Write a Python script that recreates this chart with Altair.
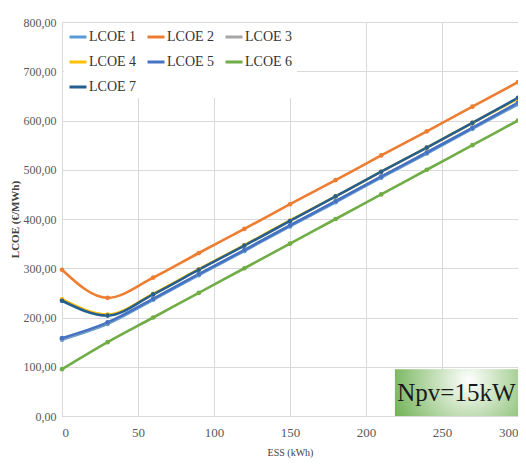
import altair as alt
import pandas as pd

ess = [0, 30, 60, 90, 120, 150, 180, 210, 240, 270, 300]
series_names = ["LCOE 1", "LCOE 2", "LCOE 3", "LCOE 4", "LCOE 5", "LCOE 6", "LCOE 7"]
lcoe1 = [155, 187, 236, 286, 335, 385, 434, 484, 533, 583, 633]
lcoe2 = [297, 240, 281, 331, 380, 430, 479, 529, 578, 628, 678]
lcoe3 = [157, 189, 238, 288, 337, 387, 436, 486, 535, 585, 636]
lcoe4 = [237, 206, 248, 298, 347, 397, 446, 496, 545, 595, 644]
lcoe5 = [158, 190, 238, 288, 337, 387, 436, 486, 535, 585, 636]
lcoe6 = [95, 150, 200, 250, 300, 350, 400, 450, 500, 550, 600]
lcoe7 = [234, 204, 247, 297, 346, 396, 446, 496, 545, 595, 646]
colors = ["#5B9BD5", "#ED7D31", "#A5A5A5", "#FFC000", "#4472C4", "#70AD47", "#255E91"]

box_x = [219]
box_x2 = [300]
box_y = [0]
box_y2 = [95]
box_label = ["Npv=15kW"]

all_vals = [lcoe1, lcoe2, lcoe3, lcoe4, lcoe5, lcoe6, lcoe7]
rows = []
for i, (name, vals) in enumerate(zip(series_names, all_vals)):
    for x, y in zip(ess, vals):
        rows.append({"ESS": x, "LCOE": y, "Series": name, "order": i})
df = pd.DataFrame(rows)

box_df = pd.DataFrame({"x": box_x, "x2": box_x2, "y": box_y, "y2": box_y2, "label": box_label})

FONT = "Liberation Serif"

xscale = alt.Scale(domain=[0, 300], nice=False)
yscale = alt.Scale(domain=[0, 800], nice=False)
cscale = alt.Scale(domain=series_names, range=colors)

grad = alt.RadialGradient(
    gradient="radial",
    stops=[alt.GradientStop(color="#ffffff", offset=0), alt.GradientStop(color="#5fa83f", offset=1)],
    x1=0.6, y1=0.4, x2=0.6, y2=0.4, r1=0, r2=0.75,
)

box = alt.Chart(box_df).mark_rect(fill=grad).encode(
    x=alt.X("x:Q", scale=xscale),
    x2="x2:Q",
    y=alt.Y("y:Q", scale=yscale),
    y2="y2:Q",
)
box_text = alt.Chart(box_df).transform_calculate(
    xm="(datum.x + datum.x2) / 2", ym="(datum.y + datum.y2) / 2"
).mark_text(font=FONT, fontSize=25, color="#1a1a1a", baseline="middle", align="center").encode(
    x=alt.X("xm:Q", scale=xscale),
    y=alt.Y("ym:Q", scale=yscale),
    text="label:N",
)

lines = alt.Chart(df).mark_line(interpolate="monotone", strokeWidth=2.6).encode(
    x=alt.X("ESS:Q", scale=xscale, title="ESS (kWh)",
            axis=alt.Axis(values=[0, 50, 100, 150, 200, 250, 300])),
    y=alt.Y("LCOE:Q", scale=yscale, title="LCOE (€/MWh)",
            axis=alt.Axis(values=[0, 100, 200, 300, 400, 500, 600, 700, 800],
                          labelExpr="replace(format(datum.value, '.2f'), '.', ',')")),
    color=alt.Color("Series:N", scale=cscale, legend=alt.Legend(
        title=None, orient="none", legendX=2, legendY=1, columns=3, direction="horizontal",
        symbolType="stroke", symbolSize=289, symbolStrokeWidth=3,
        labelFont=FONT, labelFontSize=14, labelColor="#333333",
        fillColor="white", padding=4, rowPadding=8, columnPadding=4, labelOffset=1,
    )),
    detail="Series:N",
    order="order:Q",
)
points = alt.Chart(df).mark_point(filled=True, size=22, opacity=1).encode(
    x=alt.X("ESS:Q", scale=xscale),
    y=alt.Y("LCOE:Q", scale=yscale),
    color=alt.Color("Series:N", scale=cscale, legend=None),
)

chart = alt.layer(box, box_text, lines, points).properties(
    width=456, height=394,
    autosize=alt.AutoSizeParams(type="none"),
    padding={"left": 54, "top": 14, "right": 0, "bottom": 42},
).configure_view(stroke="#d9d9d9").configure_axis(
    gridColor="#d9d9d9", domainColor="#d9d9d9", ticks=False,
    labelFont=FONT, labelColor="#595959",
    titleFont=FONT, titleColor="#404040",
).configure_axisX(
    labelFontSize=13, labelPadding=10, titleFontSize=10, titleFontWeight="normal", titlePadding=8,
).configure_axisY(
    labelFontSize=12, labelPadding=6, titleFontSize=11, titleFontWeight="bold", titlePadding=3,
)

chart.save("out.html", embed_options={"renderer": "svg", "actions": False})
